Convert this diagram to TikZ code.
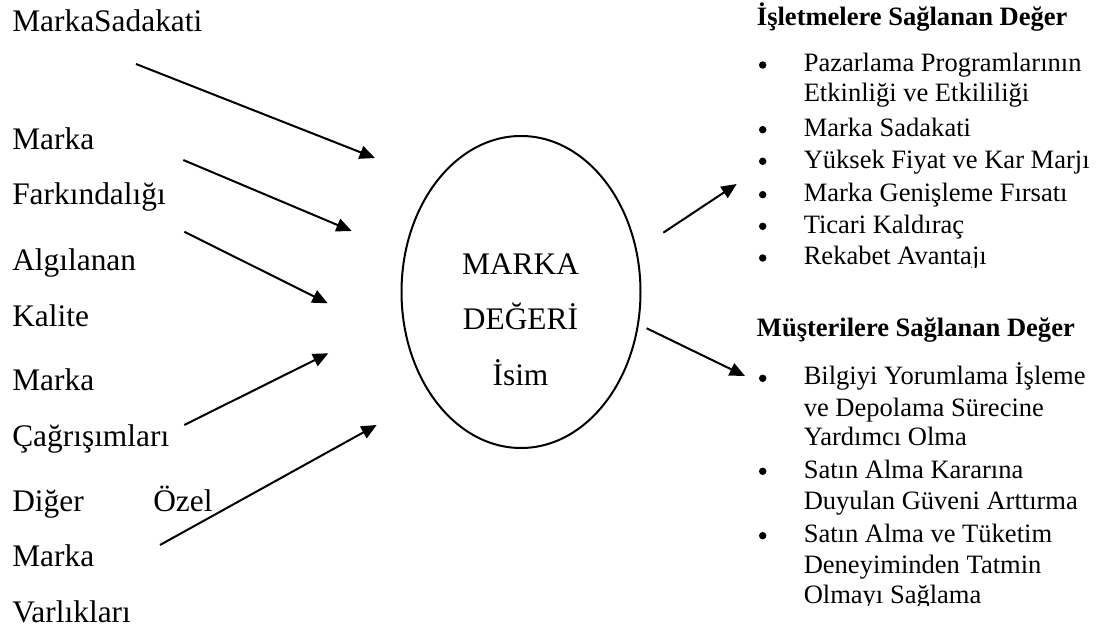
\documentclass[tikz,border=0pt]{standalone}
\usepackage{fontspec}
\setmainfont{Liberation Serif}
\usetikzlibrary{arrows.meta}
\begin{document}
\begin{tikzpicture}[x=0.75pt,y=-0.75pt,
  bigtext/.style={font=\fontsize{23.55}{28}\selectfont, inner sep=0pt, anchor=base west},
  centertext/.style={font=\fontsize{23.55}{28}\selectfont, inner sep=0pt, anchor=base},
  smalltext/.style={font=\fontsize{19.9}{24}\selectfont, inner sep=0pt, anchor=base west},
  headtext/.style={font=\fontsize{19.9}{24}\selectfont\bfseries, inner sep=0pt, anchor=base west},
  bul/.style={circle, fill=black, inner sep=0pt, minimum size=5.6pt},
  arr/.style={line width=1.5pt, -{Triangle[length=11.5pt,width=10pt]}},
  ell/.style={draw, line width=1.5pt}
]
\useasboundingbox (0,0) rectangle (1108,630);

% left column
\node[bigtext] (l0) at (12,32) {MarkaSadakati};
\node[bigtext] (l1) at (12,150) {Marka};
\node[bigtext] (l2) at (12,205) {Farkındalığı};
\node[bigtext] (l3) at (12,271) {Algılanan};
\node[bigtext] (l4) at (12,327) {Kalite};
\node[bigtext] (l5) at (12,391) {Marka};
\node[bigtext] (l6) at (12,447) {Çağrışımları};
\node[bigtext] (l7) at (12,512) {Diğer};
\node[bigtext] (l7b) at (153,512) {Özel};
\node[bigtext] (l8) at (12,567) {Marka};
\node[bigtext] (l9) at (12,623) {Varlıkları};

% ellipse
\draw[ell] (521,292) ellipse [x radius=119.5, y radius=156];
\node[centertext] (c1) at (520.5,274.3) {MARKA};
\node[centertext] (c2) at (520.5,330) {DEĞERİ};
\node[centertext] (c3) at (520.5,385.7) {İsim};

% arrow coordinates
\coordinate (a1s) at (136,64);   \coordinate (a1e) at (375,158);
\coordinate (a2s) at (183.3,160); \coordinate (a2e) at (351.7,231);
\coordinate (a3s) at (184.3,231.7); \coordinate (a3e) at (327.7,303.3);
\coordinate (a4s) at (184.3,425); \coordinate (a4e) at (328.3,353.3);
\coordinate (a5s) at (160,545);   \coordinate (a5e) at (376.7,425);
\coordinate (r1s) at (663.3,232.7); \coordinate (r1e) at (736.7,184);
\coordinate (r2s) at (646.7,328.3); \coordinate (r2e) at (745,376);

\draw[arr] (a1s) -- (a1e);
\draw[arr] (a2s) -- (a2e);
\draw[arr] (a3s) -- (a3e);
\draw[arr] (a4s) -- (a4e);
\draw[arr] (a5s) -- (a5e);
\draw[arr] (r1s) -- (r1e);
\draw[arr] (r2s) -- (r2e);

% right column: top
\node[headtext] (h1) at (756.7,26) {İşletmelere Sağlanan Değer};
\node[bul] (b1) at (762.7,65) {};
\node[smalltext] (t1a) at (803.5,72) {Pazarlama Programlarının};
\node[smalltext] (t1b) at (803.5,101.7) {Etkinliği ve Etkililiği};
\node[bul] (b2) at (762.7,129.7) {};
\node[smalltext] (t2) at (803.5,136.7) {Marka Sadakati};
\node[bul] (b3) at (762.7,161.3) {};
\node[smalltext] (t3) at (803.5,168.3) {Yüksek Fiyat ve Kar Marjı};
\node[bul] (b4) at (762.7,194.7) {};
\node[smalltext] (t4) at (803.5,201.7) {Marka Genişleme Fırsatı};
\node[bul] (b5) at (762.7,226.3) {};
\node[smalltext] (t5) at (803.5,233.3) {Ticari Kaldıraç};
\node[bul] (b6) at (762.7,258) {};
\begin{scope}
  \clip (790,230) rectangle (1108,267.5);
  \node[smalltext] (t6) at (803.5,265) {Rekabet Avantajı};
\end{scope}

% right column: bottom
\node[headtext] (h2) at (756.7,336.7) {Müşterilere Sağlanan Değer};
\node[bul] (b7) at (762.7,378.3) {};
\node[smalltext] (u1a) at (803.5,385) {Bilgiyi Yorumlama İşleme};
\node[smalltext] (u1b) at (803.5,416.7) {ve Depolama Sürecine};
\node[smalltext] (u1c) at (803.5,446) {Yardımcı Olma};
\node[bul] (b8) at (762.7,471.3) {};
\node[smalltext] (u2a) at (803.5,478.3) {Satın Alma Kararına};
\node[smalltext] (u2b) at (803.5,509.3) {Duyulan Güveni Arttırma};
\node[bul] (b9) at (762.7,535.7) {};
\node[smalltext] (u3a) at (803.5,542.7) {Satın Alma ve Tüketim};
\node[smalltext] (u3b) at (803.5,573.3) {Deneyiminden Tatmin};
\begin{scope}
  \clip (790,570) rectangle (1108,606);
  \node[smalltext] (u3c) at (803.5,603.3) {Olmayı Sağlama};
\end{scope}
\end{tikzpicture}
\end{document}
